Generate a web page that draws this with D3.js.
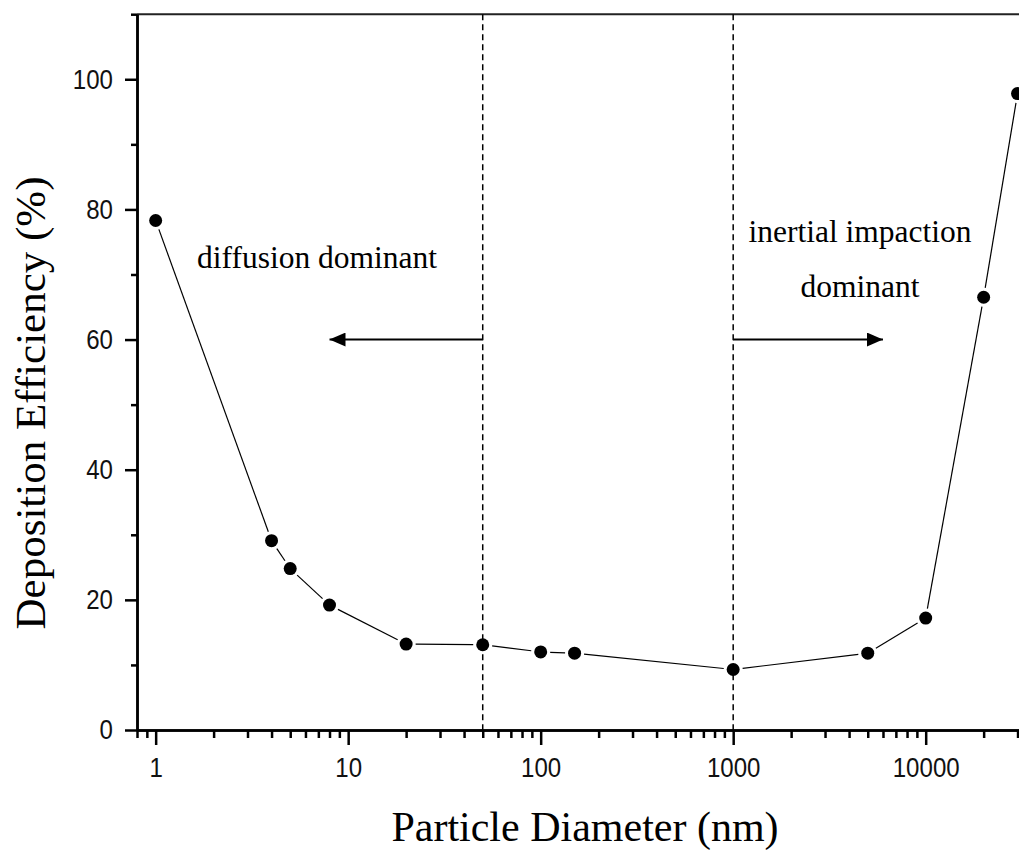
<!DOCTYPE html>
<html>
<head>
    <meta charset="UTF-8">
    <title>Deposition Efficiency</title>
    <script src="https://d3js.org/d3.v7.min.js"></script>
    <style>
        body { margin: 0; background: #fff; }
        svg { display: block; }
        .tick text { font-family: "Liberation Sans", Arial, sans-serif; font-size: 28px; fill: #111; }
        .serif { font-family: "Liberation Serif", "Times New Roman", serif; fill: #000; }
    </style>
</head>
<body>
    <svg id="chart" width="1019" height="852"></svg>

    <script>
        // data
        let diameters = [1, 4, 5, 8, 20, 50, 100, 150, 1000, 5000, 10000, 20000, 30000];
        let efficiency = [78.3, 29.1, 24.8, 19.2, 13.2, 13.1, 12.0, 11.8, 9.3, 11.8, 17.2, 66.5, 97.8];

        let yTicks = [0, 20, 40, 60, 80, 100];
        let yMinor = [10, 30, 50, 70, 90, 110];
        let xTicks = [1, 10, 100, 1000, 10000];
        let xTickLabels = ["1", "10", "100", "1000", "10000"];
        let decades = [0.1, 1, 10, 100, 1000, 10000];

        // regions: dashed boundaries and arrows
        let boundaries = [50, 1000];
        let arrows = [{ from: 50, to: 8, y: 60 }, { from: 1000, to: 6000, y: 60 }];

        let svg = d3.select("svg#chart");

        let xScale = d3.scaleLog().domain([0.8, 100000]).range([137, 1118.2]);
        let yScale = d3.scaleLinear().domain([0, 110]).range([730, 14.2]);

        let plotLeft = xScale.range()[0];
        let plotBottom = yScale(0);
        let plotTop = yScale(110);

        // top frame line
        svg.append("line")
            .attr("x1", plotLeft).attr("x2", 1019)
            .attr("y1", plotTop).attr("y2", plotTop)
            .attr("stroke", "#222").attr("stroke-width", 2);

        // dashed region boundaries
        svg.selectAll("line.boundary").data(boundaries)
            .join("line")
            .attr("class", "boundary")
            .attr("x1", d => xScale(d)).attr("x2", d => xScale(d))
            .attr("y1", plotTop).attr("y2", plotBottom)
            .attr("stroke", "#000").attr("stroke-width", 1.5)
            .attr("stroke-dasharray", "6,4");

        // arrows
        let defs = svg.append("defs");
        defs.append("marker")
            .attr("id", "head")
            .attr("viewBox", "0 0 16 14")
            .attr("refX", 16).attr("refY", 7)
            .attr("markerWidth", 16).attr("markerHeight", 14)
            .attr("markerUnits", "userSpaceOnUse")
            .attr("orient", "auto")
            .append("path")
            .attr("d", "M0,0 L16,7 L0,14 Z")
            .attr("fill", "#000");

        svg.selectAll("line.arrow").data(arrows)
            .join("line")
            .attr("class", "arrow")
            .attr("x1", d => xScale(d.from)).attr("x2", d => xScale(d.to))
            .attr("y1", d => yScale(d.y)).attr("y2", d => yScale(d.y))
            .attr("stroke", "#000").attr("stroke-width", 2)
            .attr("marker-end", "url(#head)");

        // connecting line, broken near each marker
        let r = 6.5;
        let gap = r + 3;
        let segs = [];
        for (let i = 0; i < diameters.length - 1; i++) {
            let x1 = xScale(diameters[i]), y1 = yScale(efficiency[i]);
            let x2 = xScale(diameters[i + 1]), y2 = yScale(efficiency[i + 1]);
            let len = Math.hypot(x2 - x1, y2 - y1);
            let ux = (x2 - x1) / len, uy = (y2 - y1) / len;
            segs.push({ x1: x1 + ux * gap, y1: y1 + uy * gap, x2: x2 - ux * gap, y2: y2 - uy * gap });
        }
        svg.selectAll("line.seg").data(segs)
            .join("line")
            .attr("class", "seg")
            .attr("x1", d => d.x1).attr("y1", d => d.y1)
            .attr("x2", d => d.x2).attr("y2", d => d.y2)
            .attr("stroke", "#000").attr("stroke-width", 1.2);

        // markers
        svg.selectAll("circle.pt").data(diameters)
            .join("circle")
            .attr("class", "pt")
            .attr("cx", d => xScale(d))
            .attr("cy", (d, i) => yScale(efficiency[i]))
            .attr("r", r)
            .attr("fill", "#000");

        // Y axis
        let yAxis = svg.append("g")
            .attr("transform", "translate(" + plotLeft + ",0)")
            .call(d3.axisLeft(yScale).tickValues(yTicks).tickSize(12).tickPadding(0).tickSizeOuter(0));
        yAxis.selectAll(".tick text")
            .attr("x", 0)
            .attr("transform", "translate(-24,0) scale(0.86,1)");
        svg.append("g")
            .attr("transform", "translate(" + plotLeft + ",0)")
            .call(d3.axisLeft(yScale).tickValues(yMinor).tickSize(6).tickFormat("").tickSizeOuter(0));

        // X axis
        let xMinor = [];
        decades.forEach(dec => {
            for (let k = 2; k <= 9; k++) xMinor.push(dec * k);
        });
        xMinor = xMinor.filter(v => v >= 0.8 && v <= 100000);

        let xAxis = svg.append("g")
            .attr("transform", "translate(0," + plotBottom + ")")
            .call(d3.axisBottom(xScale).tickValues(xTicks).tickSize(15).tickPadding(12).tickSizeOuter(0)
                .tickFormat((d, i) => xTickLabels[i]));
        xAxis.selectAll(".tick text").attr("transform", "scale(0.86,1)");
        svg.append("g")
            .attr("transform", "translate(0," + plotBottom + ")")
            .call(d3.axisBottom(xScale).tickValues(xMinor).tickSize(8).tickFormat("").tickSizeOuter(0));

        svg.selectAll(".domain").attr("stroke", "#000").attr("stroke-width", 2.5);
        svg.selectAll(".tick line").attr("stroke", "#000").attr("stroke-width", 2.5);

        // axis titles
        svg.append("text")
            .attr("class", "serif")
            .attr("x", 585).attr("y", 841)
            .attr("text-anchor", "middle")
            .style("font-size", "42px")
            .text("Particle Diameter (nm)");

        svg.append("text")
            .attr("class", "serif")
            .attr("transform", "translate(45,403) rotate(-90)")
            .attr("text-anchor", "middle")
            .style("font-size", "43px")
            .text("Deposition Efficiency (%)");

        // region annotations
        svg.append("text")
            .attr("class", "serif")
            .attr("x", 197).attr("y", 268)
            .style("font-size", "31.5px")
            .text("diffusion dominant");

        svg.append("text")
            .attr("class", "serif")
            .attr("x", 860).attr("y", 242)
            .attr("text-anchor", "middle")
            .style("font-size", "31.5px")
            .text("inertial impaction");

        svg.append("text")
            .attr("class", "serif")
            .attr("x", 860).attr("y", 297)
            .attr("text-anchor", "middle")
            .style("font-size", "31.5px")
            .text("dominant");
    </script>
</body>
</html>
